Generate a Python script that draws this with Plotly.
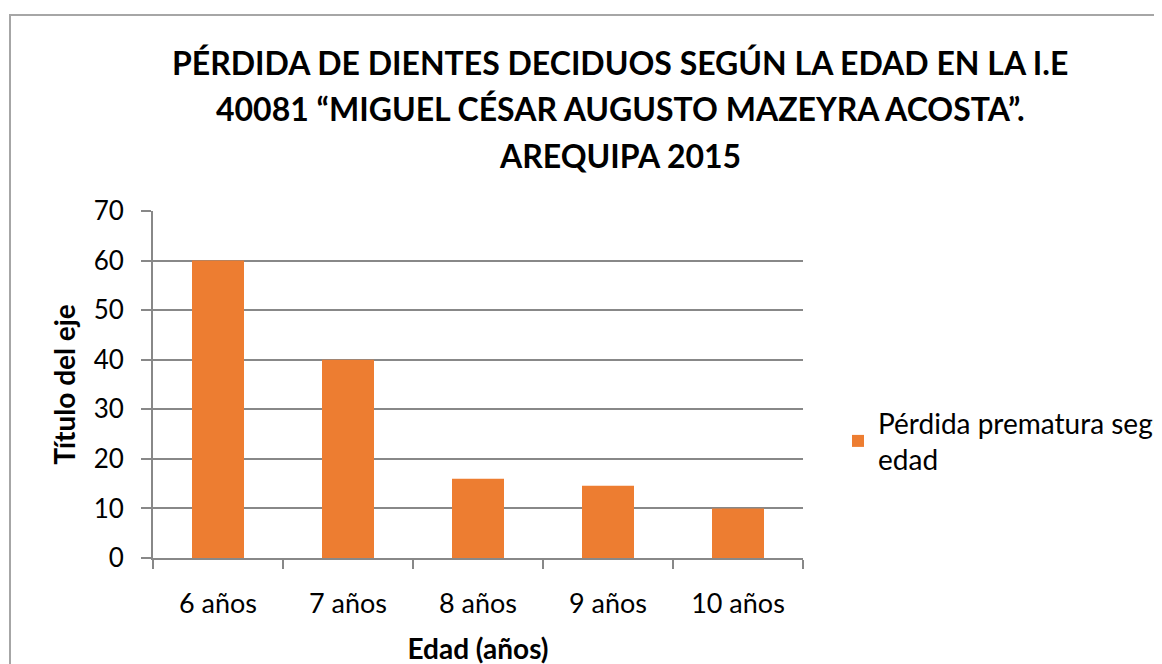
import plotly.graph_objects as go

categories = ["6 años", "7 años", "8 años", "9 años", "10 años"]
values = [60, 40, 16, 14.6, 10]
series_name = "Pérdida prematura según<br>edad"
title_lines = [
    "PÉRDIDA DE DIENTES DECIDUOS SEGÚN LA EDAD EN LA I.E",
    "40081 “MIGUEL CÉSAR AUGUSTO MAZEYRA ACOSTA”.",
    "AREQUIPA 2015",
]
y_ticks = [0, 10, 20, 30, 40, 50, 60, 70]

W, H = 1162, 664
OFF = 8  # page body margin
L, R, T, B = 153, 803, 211, 558  # target screen pixels of plot area
pw, ph = R - L, B - T


def px(x):
    return (x - L) / pw


def py(y):
    return (B - y) / ph


FONT = "Lato"
GRAY = "#888888"

fig = go.Figure()
fig.add_trace(go.Bar(
    x=categories, y=values, name=series_name,
    marker=dict(color="#ED7D31", line=dict(width=0)),
    showlegend=True,
))

annotations = []
for line, yc in zip(title_lines, [62, 109, 155]):
    annotations.append(dict(
        text="<b>" + line + "</b>", x=px(620), y=py(yc), xref="paper", yref="paper",
        xanchor="center", yanchor="middle", showarrow=False,
        font=dict(family=FONT, size=32, color="#000000"),
    ))

fig.update_layout(
    width=W, height=H,
    margin=dict(l=L - OFF, r=W - (R - OFF), t=T - OFF, b=H - (B - OFF), pad=0,
                autoexpand=False),
    paper_bgcolor="white", plot_bgcolor="white",
    font=dict(family=FONT, size=26, color="#000000"),
    bargap=0.6,
    annotations=annotations,
    legend=dict(
        x=px(838), y=py(398), xanchor="left", yanchor="top",
        font=dict(family=FONT, size=28, color="#000000"),
        bgcolor="rgba(0,0,0,0)", itemwidth=30,
    ),
    shapes=[dict(
        type="rect", xref="paper", yref="paper",
        x0=px(10), x1=px(1250), y0=py(15), y1=py(720),
        line=dict(color="#a6a6a6", width=2), fillcolor="rgba(0,0,0,0)", layer="below",
    )],
    xaxis=dict(
        type="category", showgrid=False, showline=True, linecolor=GRAY, linewidth=2,
        ticks="outside", tickson="boundaries", ticklen=9, tickwidth=2, tickcolor=GRAY,
        tickfont=dict(family=FONT, size=27), ticklabelstandoff=21,
        title=dict(text="<b>Edad (años)</b>", font=dict(family=FONT, size=28), standoff=21),
        zeroline=False, automargin=False,
    ),
    yaxis=dict(
        range=[0, 70], tickvals=y_ticks, showgrid=True, gridcolor=GRAY, gridwidth=1.5,
        showline=True, linecolor=GRAY, linewidth=2,
        ticks="outside", ticklen=10, tickwidth=2, tickcolor=GRAY,
        tickfont=dict(family=FONT, size=26), ticklabelstandoff=12,
        title=dict(text="<b>Título del eje</b>", font=dict(family=FONT, size=28), standoff=10),
        zeroline=False, automargin=False,
    ),
)

fig.write_html("out.html")
